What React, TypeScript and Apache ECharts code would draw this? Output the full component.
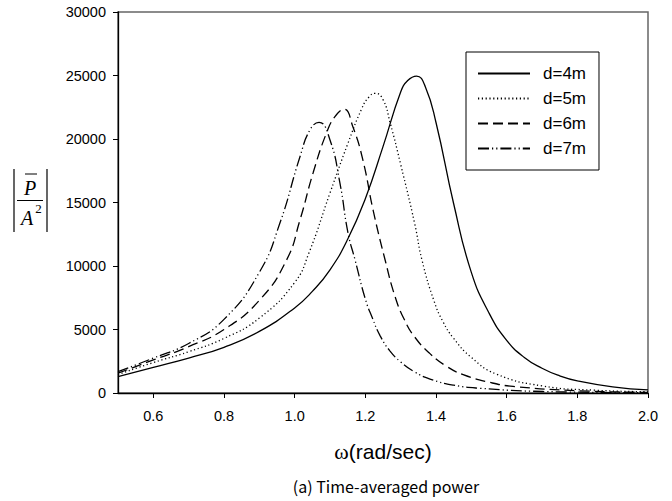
import React, { useEffect, useRef } from "react";
import * as echarts from "echarts";

// ω (rad/sec) and |P/A²| for each depth
const w4 = [0.5, 0.6, 0.7, 0.8, 0.9, 1.0, 1.05, 1.1, 1.15, 1.2, 1.25, 1.3, 1.32, 1.345, 1.37, 1.4, 1.45, 1.5, 1.55, 1.6, 1.65, 1.7, 1.75, 1.8, 1.9, 2.0];
const p4 = [1290, 2020, 2750, 3600, 4850, 6700, 8000, 9700, 12100, 15300, 19400, 23700, 24600, 24950, 24100, 21300, 14900, 9500, 6300, 4150, 2800, 1950, 1350, 950, 480, 240];

const w5 = [0.5, 0.6, 0.7, 0.8, 0.9, 1.0, 1.04, 1.1, 1.15, 1.19, 1.21, 1.228, 1.25, 1.27, 1.3, 1.34, 1.36, 1.395, 1.42, 1.45, 1.5, 1.57, 1.7, 1.85, 2.0];
const p5 = [1450, 2400, 3250, 4300, 5900, 8700, 11000, 15750, 19600, 22400, 23300, 23600, 23100, 21300, 18000, 13300, 10500, 7200, 5600, 4300, 2800, 1500, 560, 220, 100];

const w6 = [0.5, 0.6, 0.7, 0.8, 0.9, 0.977, 1.015, 1.052, 1.09, 1.114, 1.14, 1.165, 1.193, 1.222, 1.256, 1.284, 1.31, 1.34, 1.383, 1.43, 1.477, 1.55, 1.618, 1.8, 2.0];
const p6 = [1560, 2600, 3650, 5000, 7300, 10470, 13620, 17320, 20470, 21760, 22340, 20940, 18350, 14400, 10470, 7600, 5800, 4400, 3100, 2100, 1450, 850, 520, 180, 50];

const w7 = [0.5, 0.6, 0.7, 0.8, 0.9, 0.958, 1.015, 1.043, 1.069, 1.1, 1.128, 1.151, 1.171, 1.2, 1.22, 1.242, 1.27, 1.3, 1.34, 1.383, 1.45, 1.525, 1.7, 2.0];
const p7 = [1680, 2750, 3900, 5800, 9500, 13360, 18600, 20700, 21310, 19920, 16540, 12600, 10470, 7400, 5900, 4500, 3300, 2450, 1650, 1100, 620, 370, 120, 20];

const seriesNames = ["d=4m", "d=5m", "d=6m", "d=7m"];
const xTicks = [0.6, 0.8, 1.0, 1.2, 1.4, 1.6, 1.8, 2.0];

const SANS = "'Liberation Sans', Arial, sans-serif";
const SERIF = "'Liberation Serif', 'Times New Roman', serif";

export default function App() {
  const ref = useRef<HTMLDivElement>(null);
  useEffect(() => {
    const chart = echarts.init(ref.current!, null, { renderer: "svg" });
    const pairs = (w: number[], p: number[]) => w.map((x, i) => [x, p[i]]);
    const dashes: any[] = ["solid", [1.2, 2.6], [10, 5], [11, 3, 1.2, 3, 1.2, 3]];
    const datas = [pairs(w4, p4), pairs(w5, p5), pairs(w6, p6), pairs(w7, p7)];
    const series = seriesNames.map((name, i) => ({
      name,
      type: "line",
      data: datas[i],
      showSymbol: false,
      symbol: "none",
      smooth: 0.5,
      lineStyle: { color: "#000", width: 1.3, type: dashes[i] },
      itemStyle: { color: "#000" },
    }));
    chart.setOption({
      animation: false,
      backgroundColor: "#fff",
      grid: {
        left: 118,
        right: 24,
        top: 12,
        bottom: 108,
        show: true,
        borderColor: "#666",
        borderWidth: 1.5,
        backgroundColor: "transparent",
      },
      legend: {
        orient: "vertical",
        left: 466,
        top: 52,
        itemWidth: 52,
        itemHeight: 14,
        itemGap: 8,
        padding: [13, 13, 13, 11],
        borderColor: "#000",
        borderWidth: 1,
        backgroundColor: "#fff",
        itemStyle: { opacity: 0 },
        textStyle: { fontSize: 17, fontFamily: SANS, color: "#000", padding: [0, 0, 0, 8] },
        data: seriesNames,
      },
      xAxis: {
        type: "value",
        min: 0.5,
        max: 2.0,
        splitLine: { show: false },
        axisLine: { lineStyle: { color: "#000", width: 1.3 } },
        axisTick: { show: true, length: 5, customValues: xTicks, lineStyle: { color: "#000" } },
        axisLabel: {
          customValues: xTicks,
          formatter: (v: number) => v.toFixed(1),
          fontSize: 14.5,
          fontFamily: SANS,
          color: "#000",
          margin: 15,
        },
        name: "{w|ω}(rad/sec)",
        nameLocation: "middle",
        nameGap: 47,
        nameTextStyle: {
          fontSize: 21,
          fontFamily: SANS,
          color: "#000",
          rich: { w: { fontSize: 22, fontFamily: SERIF, color: "#000" } },
        },
      },
      yAxis: {
        type: "value",
        min: 0,
        max: 30000,
        interval: 5000,
        splitLine: { show: false },
        axisLine: { show: true, lineStyle: { color: "#000", width: 1.3 } },
        axisTick: { show: true, length: 5, lineStyle: { color: "#000" } },
        axisLabel: {
          formatter: (v: number) => String(v),
          fontSize: 14.5,
          fontFamily: SANS,
          color: "#000",
          margin: 12,
        },
      },
      graphic: [
        { type: "line", shape: { x1: 14, y1: 169, x2: 14, y2: 232 }, style: { stroke: "#000", lineWidth: 1.2 } },
        { type: "line", shape: { x1: 47, y1: 169, x2: 47, y2: 232 }, style: { stroke: "#000", lineWidth: 1.2 } },
        { type: "line", shape: { x1: 17, y1: 200.5, x2: 43, y2: 200.5 }, style: { stroke: "#000", lineWidth: 1 } },
        { type: "line", shape: { x1: 25, y1: 174, x2: 37, y2: 174 }, style: { stroke: "#000", lineWidth: 1 } },
        {
          type: "text",
          x: 30,
          y: 188,
          style: { text: "P", font: `italic 20px ${SERIF}`, fill: "#000", align: "center", verticalAlign: "middle" },
        },
        {
          type: "text",
          x: 27,
          y: 218,
          style: { text: "A", font: `italic 20px ${SERIF}`, fill: "#000", align: "center", verticalAlign: "middle" },
        },
        {
          type: "text",
          x: 38.5,
          y: 208,
          style: { text: "2", font: `13px ${SERIF}`, fill: "#000", align: "center", verticalAlign: "middle" },
        },
        {
          type: "text",
          x: 386,
          y: 486,
          style: {
            text: "(a) Time-averaged power",
            font: "16px 'Noto Sans CJK KR', 'Noto Sans', sans-serif",
            fill: "#000",
            align: "center",
            verticalAlign: "middle",
          },
        },
      ],
      series,
    });
    return () => chart.dispose();
  }, []);
  return <div ref={ref} style={{ position: "fixed", left: 0, top: 0, width: 672, height: 501 }} />;
}
